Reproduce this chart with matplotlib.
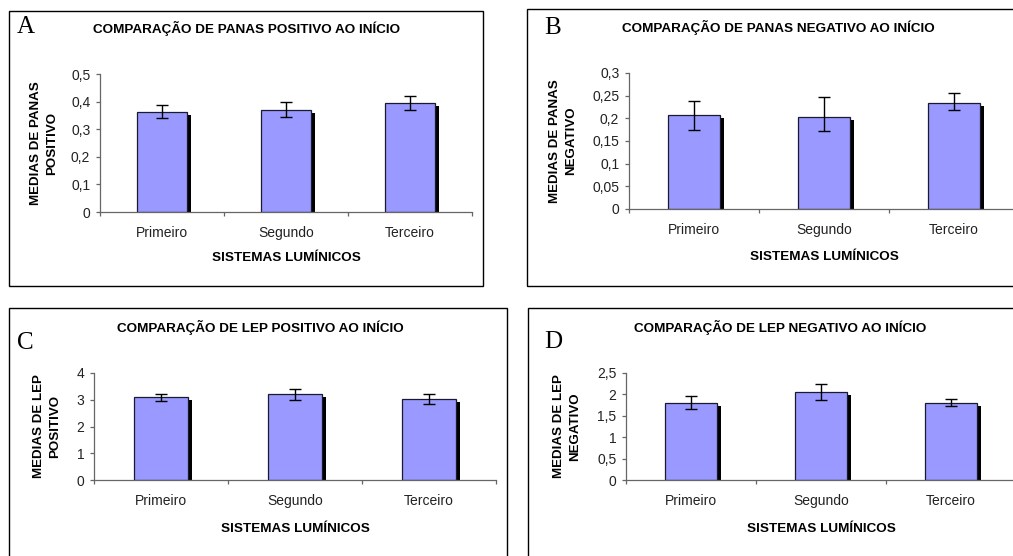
import matplotlib.pyplot as plt
import matplotlib.patheffects as pe
from matplotlib.patches import Rectangle
from matplotlib.ticker import FuncFormatter

# categories
categorias = ['Primeiro', 'Segundo', 'Terceiro']

# A - PANAS positivo
panas_pos_media = [0.363, 0.370, 0.395]
panas_pos_err_inf = [0.023, 0.024, 0.025]
panas_pos_err_sup = [0.024, 0.028, 0.025]

# B - PANAS negativo
panas_neg_media = [0.207, 0.204, 0.233]
panas_neg_err_inf = [0.032, 0.031, 0.014]
panas_neg_err_sup = [0.032, 0.044, 0.023]

# C - LEP positivo
lep_pos_media = [3.10, 3.20, 3.02]
lep_pos_err_inf = [0.16, 0.21, 0.17]
lep_pos_err_sup = [0.10, 0.21, 0.19]

# D - LEP negativo
lep_neg_media = [1.81, 2.06, 1.81]
lep_neg_err_inf = [0.15, 0.18, 0.09]
lep_neg_err_sup = [0.16, 0.19, 0.09]

titulos = ['COMPARAÇÃO DE PANAS POSITIVO AO INÍCIO',
           'COMPARAÇÃO DE PANAS NEGATIVO AO INÍCIO',
           'COMPARAÇÃO DE LEP POSITIVO AO INÍCIO',
           'COMPARAÇÃO DE LEP NEGATIVO AO INÍCIO']
ylabels = ['MEDIAS DE PANAS\nPOSITIVO', 'MEDIAS DE PANAS\nNEGATIVO',
           'MEDIAS DE LEP\nPOSITIVO', 'MEDIAS DE LEP\nNEGATIVO']
letras = ['A', 'B', 'C', 'D']
yticks = [[0, 0.1, 0.2, 0.3, 0.4, 0.5],
          [0, 0.05, 0.1, 0.15, 0.2, 0.25, 0.3],
          [0, 1, 2, 3, 4],
          [0, 0.5, 1, 1.5, 2, 2.5]]
xlabel = 'SISTEMAS LUMÍNICOS'

medias = [panas_pos_media, panas_neg_media, lep_pos_media, lep_neg_media]
err_inf = [panas_pos_err_inf, panas_neg_err_inf, lep_pos_err_inf, lep_neg_err_inf]
err_sup = [panas_pos_err_sup, panas_neg_err_sup, lep_pos_err_sup, lep_neg_err_sup]

# layout in pixels (x0, y0, x1, y1), top-left origin
W, H = 1013, 556
boxes = [(9, 11, 483, 286), (527, 9, 1030, 286), (9, 308, 507, 570), (528, 308, 1030, 570)]
axes_px = [(100, 74, 472, 212), (629, 73, 1019, 209), (94, 373, 496, 480), (626, 373, 1016, 480)]
letter_px = [(26, 27), (553, 28), (25, 343), (553, 342)]
title_px = [(247, 28), (778, 27), (260, 327), (780, 327)]
ylabel_x = [44, 563, 47, 567]
xlabel_y = [258, 257, 529, 529]

plt.rcParams['font.family'] = 'Liberation Sans'

fig = plt.figure(figsize=(W / 100, H / 100), dpi=100)


def fx(x):
    return x / W


def fy(y):
    return 1 - y / H


def virgula(v, pos):
    return ('%g' % round(v, 3)).replace('.', ',')


sombra = [pe.withSimplePatchShadow(offset=(3, -2.2), shadow_rgbFace='black', alpha=1.0)]

for k in range(4):
    bx0, by0, bx1, by1 = boxes[k]
    fig.patches.append(Rectangle((fx(bx0), fy(by1)), fx(bx1 - bx0), (by1 - by0) / H,
                                 transform=fig.transFigure, fill=False,
                                 edgecolor='black', linewidth=1.0))
    ax0, ay0, ax1, ay1 = axes_px[k]
    ax = fig.add_axes([fx(ax0), fy(ay1), fx(ax1 - ax0), (ay1 - ay0) / H])

    xs = [i + 0.5 for i in range(len(categorias))]
    ax.bar(xs, medias[k], width=0.4, color='#9999ff', edgecolor='#1a1a2e',
           linewidth=0.9, zorder=2, path_effects=sombra)
    ax.errorbar(xs, medias[k], yerr=[err_inf[k], err_sup[k]], fmt='none',
                ecolor='black', elinewidth=1, capsize=4, capthick=1, zorder=3)

    ax.set_xlim(0, 3)
    ax.set_ylim(0, yticks[k][-1])
    ax.set_yticks(yticks[k])
    ax.yaxis.set_major_formatter(FuncFormatter(virgula))
    ax.set_xticks(xs)
    ax.set_xticklabels(categorias)
    for lab in ax.get_xticklabels():
        lab.set_verticalalignment('baseline')
    ax.set_xticks([0, 1, 2, 3], minor=True)
    ax.tick_params(axis='x', which='major', length=0, pad=18, labelsize=10, colors='#222222')
    ax.tick_params(axis='x', which='minor', length=3, width=0.9, color='#666666')
    ax.tick_params(axis='y', length=3, width=0.9, color='#666666', pad=4,
                   labelsize=10, labelcolor='#222222')
    for s in ['top', 'right']:
        ax.spines[s].set_visible(False)
    for s in ['left', 'bottom']:
        ax.spines[s].set_color('#666666')
        ax.spines[s].set_linewidth(0.9)

    fig.text(fx(ylabel_x[k]), fy((ay0 + ay1) / 2), ylabels[k], rotation=90,
             ha='center', va='center', multialignment='center', linespacing=1.4,
             fontsize=9.6, fontweight='bold')
    fig.text(fx((ax0 + ax1) / 2), fy(xlabel_y[k]), xlabel, ha='center', va='center',
             fontsize=9.7, fontweight='bold')
    fig.text(fx(title_px[k][0]), fy(title_px[k][1]), titulos[k], ha='center', va='center',
             fontsize=9.7, fontweight='bold')
    fig.text(fx(letter_px[k][0]), fy(letter_px[k][1]), letras[k], ha='center', va='center',
             fontsize=18, family='Liberation Serif')

fig.savefig('out.png', dpi=100)
